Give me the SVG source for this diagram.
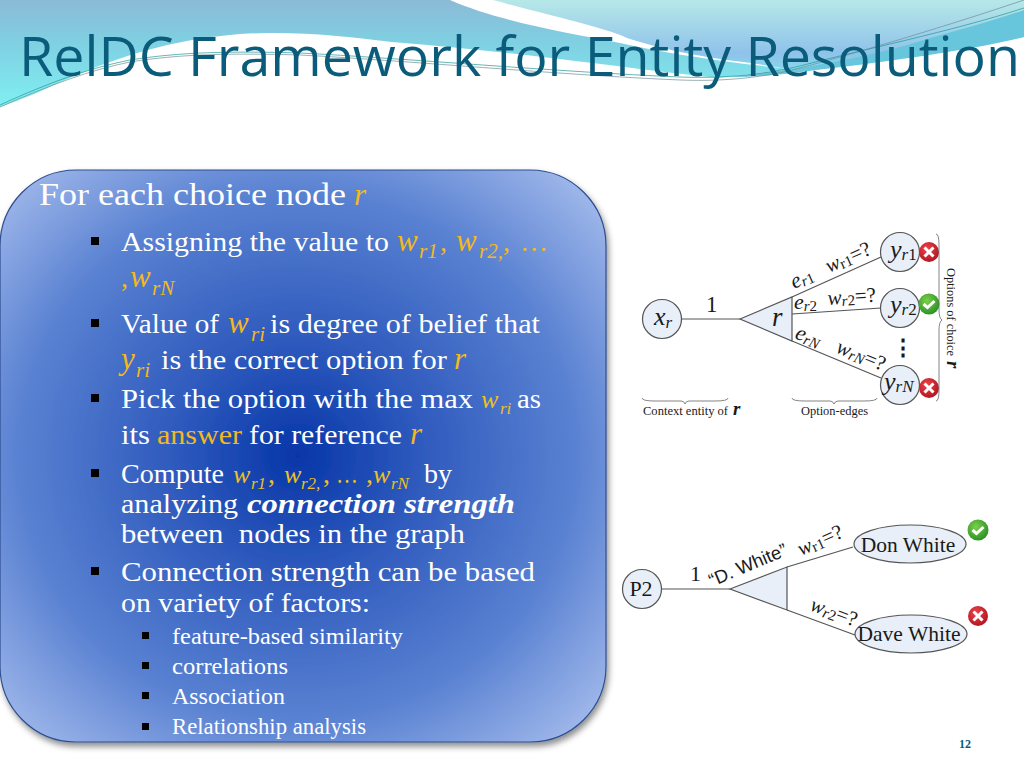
<svg xmlns="http://www.w3.org/2000/svg" width="1024" height="768" viewBox="0 0 1024 768">
<style>
.t{font-family:"Liberation Serif",serif;fill:#fff}
.a{font-size:28px}
.s{font-size:23px}
.y{fill:#f3b91c}
.y2{fill:#ecc024}
.w{font-size:31px;font-style:italic;fill:#f3b91c}
.u{font-size:21px;font-style:italic;fill:#f3b91c}
.w2{font-size:26px;font-style:italic;fill:#ecc024}
.u2{font-size:17px;font-style:italic;fill:#ecc024}
.d{font-family:"Liberation Serif",serif;fill:#1a1a1a}
.i{font-style:italic}
.n{fill:#e9eff8;stroke:#555;stroke-width:1.2}
.e{fill:none;stroke:#555;stroke-width:1.2}
.b{fill:none;stroke:#666;stroke-width:.8}
</style>
<defs>
<linearGradient id="g1" x1="0" y1="0" x2="0" y2="1"><stop offset="0" stop-color="#8bbad6"/><stop offset=".4" stop-color="#7fd0e2"/><stop offset="1" stop-color="#7ff0f2"/></linearGradient>
<linearGradient id="g2" x1="0" y1="0" x2="0" y2="1"><stop offset="0" stop-color="#b6e8e8"/><stop offset=".75" stop-color="#8fc2ea"/><stop offset="1" stop-color="#86d8ec"/></linearGradient>
<radialGradient id="p" cx=".49" cy=".5" r=".68"><stop offset="0" stop-color="#0636a8"/><stop offset=".28" stop-color="#2c58bc"/><stop offset=".68" stop-color="#5a82d2"/><stop offset="1" stop-color="#a4bbec"/></radialGradient>
<radialGradient id="rx" cx=".4" cy=".35" r=".75"><stop offset="0" stop-color="#f0444a"/><stop offset="1" stop-color="#a8101c"/></radialGradient>
<radialGradient id="rc" cx=".4" cy=".35" r=".75"><stop offset="0" stop-color="#7cd04a"/><stop offset="1" stop-color="#1f8a20"/></radialGradient>
<filter id="sh" x="-5%" y="-5%" width="110%" height="110%"><feDropShadow dx="2" dy="4" stdDeviation="3" flood-color="#000" flood-opacity=".45"/></filter>
<g id="x"><circle r="10" fill="url(#rx)"/><path d="M-4.500-4.500 4.500 4.500M4.500-4.500-4.500 4.500" stroke="#fff" stroke-width="3"/></g>
<g id="c"><circle r="10.500" fill="url(#rc)"/><path d="M-5.500 0-1.500 3.500 5.500-3" stroke="#fff" stroke-width="3" fill="none"/></g>
</defs>
<g id="bg">
<path d="M0 0H450C500 22 570 33 620 43 660 52 700 58 745 64L790 69 718 78C653 72 522 52 392 42 340 36 300 31 240 34 170 40 120 56 65 80 40 92 20 100 0 107Z" fill="url(#g1)"/>
<path d="M493 0H1024V37C960 50 880 62 800 71L751 63C700 57 665 50 627 38 600 26 550 16 493 0Z" fill="url(#g2)"/>
<path d="M1024 10C990 22 950 32 914 43 880 53 830 64 784 70L730 77C760 77 790 74 816 70 900 60 970 50 1024 37Z" fill="#68c6dc"/>
<path d="M0 107C50 85 90 70 130 62 180 54 230 53 300 55 400 60 560 75 680 80 730 82 770 76 800 68 860 52 950 25 1024 0" fill="none" stroke="#6f8f96" stroke-width=".7"/>
<path d="M0 105C50 82 90 68 130 60 180 52 230 51 300 53 400 58 560 72 680 77 730 79 770 73 800 66 860 50 950 32 1024 8" fill="none" stroke="#1f9a96" stroke-width=".7"/>
</g>
<text x="19" y="76" font-family="'Open Sans','Noto Sans',sans-serif" font-size="55" fill="#0b5c7a" textLength="1001" lengthAdjust="spacingAndGlyphs">RelDC Framework for Entity Resolution</text>
<g id="panel">
<rect x="0" y="170" width="606" height="572" rx="76" ry="76" fill="url(#p)" stroke="#2c4e90" stroke-width="1.200" filter="url(#sh)"/>
</g>
<g id="bullets" fill="#000">
<rect x="91" y="237" width="8" height="8"/><rect x="91" y="319" width="8" height="8"/><rect x="91" y="394" width="8" height="8"/><rect x="91" y="469" width="8" height="8"/><rect x="91" y="567" width="8" height="8"/>
<rect x="142" y="632" width="7" height="7"/><rect x="142" y="662" width="7" height="7"/><rect x="142" y="692" width="7" height="7"/><rect x="142" y="723" width="7" height="7"/>
</g>
<g id="body" class="t">
<text x="39" y="205" font-size="31" textLength="307" lengthAdjust="spacingAndGlyphs">For each choice node</text>
<text class="w" x="354" y="205">r</text>

<text class="a" x="121" y="251" textLength="268" lengthAdjust="spacingAndGlyphs">Assigning the value to</text>
<text class="w" x="397" y="251">w</text><text class="u" x="419" y="258">r1</text><text class="a y" x="440" y="251">,</text>
<text class="w" x="456" y="251">w</text><text class="u" x="479" y="258">r2,</text><text class="a y" x="503" y="251">,</text><text class="a y" x="520" y="251">…</text>
<text class="a y" x="121" y="287">,</text><text class="w" x="130" y="287">w</text><text class="u" x="152" y="295">rN</text>

<text class="a" x="121" y="333" textLength="98" lengthAdjust="spacingAndGlyphs">Value of</text>
<text class="w" x="228" y="333">w</text><text class="u" x="251" y="341">ri</text>
<text class="a" x="270" y="333" textLength="270" lengthAdjust="spacingAndGlyphs">is degree of belief that</text>

<text class="w" x="121" y="369">y</text><text class="u" x="136" y="377">ri</text>
<text class="a" x="161" y="369" textLength="286" lengthAdjust="spacingAndGlyphs">is the correct option for</text>
<text class="w" x="454" y="369">r</text>

<text class="a" x="121" y="408" textLength="352" lengthAdjust="spacingAndGlyphs">Pick the option with the max</text>
<text class="w2" x="481" y="408">w</text><text class="u2" x="500" y="414">ri</text>
<text class="a" x="517" y="408" textLength="24" lengthAdjust="spacingAndGlyphs">as</text>

<text class="a" x="121" y="444" textLength="29" lengthAdjust="spacingAndGlyphs">its</text>
<text class="a y" x="157" y="444" textLength="85" lengthAdjust="spacingAndGlyphs">answer</text>
<text class="a" x="249" y="444" textLength="153" lengthAdjust="spacingAndGlyphs">for reference</text>
<text class="w" x="410" y="444">r</text>

<text class="a" x="121" y="483" textLength="103" lengthAdjust="spacingAndGlyphs">Compute</text>
<text class="w2" x="233" y="483">w</text><text class="u2" x="251" y="489">r1</text><text class="a y2" x="268" y="483">,</text>
<text class="w2" x="284" y="483">w</text><text class="u2" x="301" y="489">r2,</text><text class="a y2" x="323" y="483">,</text><text class="a y2" x="336" y="483" textLength="22" lengthAdjust="spacingAndGlyphs">…</text>
<text class="a y2" x="366" y="483">,</text><text class="w2" x="373" y="483">w</text><text class="u2" x="391" y="489">rN</text>
<text class="a" x="424" y="483" textLength="28" lengthAdjust="spacingAndGlyphs">by</text>

<text class="a" x="121" y="513" textLength="117" lengthAdjust="spacingAndGlyphs">analyzing</text>
<text class="a" x="247" y="513" font-weight="bold" font-style="italic" textLength="268" lengthAdjust="spacingAndGlyphs">connection strength</text>
<text class="a" x="121" y="543" textLength="344" lengthAdjust="spacingAndGlyphs">between&#160; nodes in the graph</text>
<text class="a" x="121" y="581" textLength="414" lengthAdjust="spacingAndGlyphs">Connection strength can be based</text>
<text class="a" x="121" y="612" textLength="249" lengthAdjust="spacingAndGlyphs">on variety of factors:</text>
<text class="s" x="172" y="644" textLength="231" lengthAdjust="spacingAndGlyphs">feature-based similarity</text>
<text class="s" x="172" y="674" textLength="116" lengthAdjust="spacingAndGlyphs">correlations</text>
<text class="s" x="172" y="704" textLength="113" lengthAdjust="spacingAndGlyphs">Association</text>
<text class="s" x="172" y="734" textLength="194" lengthAdjust="spacingAndGlyphs">Relationship analysis</text>
</g>
<g id="connectors1">
<path class="e" d="M681 319H740"/><path class="e" d="M792 297 881 257"/><path class="e" d="M792 314 881 308"/><path class="e" d="M792 341 881 378"/>
</g>
<g id="choice-r"><path class="n" d="M740 319 792 297V341Z"/><text class="d i" x="772" y="326" font-size="27">r</text></g>
<g id="xr"><circle class="n" cx="662" cy="319" r="19.500"/><text class="d i" x="654" y="325" font-size="26">x<tspan font-size="17" dy="3">r</tspan></text></g>
<g id="yr1"><circle class="n" cx="900" cy="252" r="19.500"/><text class="d i" x="890" y="258" font-size="26">y<tspan font-size="17" dy="2">r</tspan><tspan font-size="17" font-style="normal">1</tspan></text><use href="#x" x="929" y="252"/></g>
<g id="yr2"><circle class="n" cx="900" cy="308" r="19.500"/><text class="d i" x="890" y="313" font-size="26">y<tspan font-size="17" dy="2">r</tspan><tspan font-size="17" font-style="normal">2</tspan></text><use href="#c" x="929" y="304"/></g>
<g id="yrN"><circle class="n" cx="900" cy="385" r="19.500"/><text class="d i" x="884" y="390" font-size="26">y<tspan font-size="17" dy="2">rN</tspan></text><use href="#x" x="929" y="388"/></g>
<g id="labels1" class="d">
<text x="706" y="312" font-size="23">1</text>
<text x="892" y="355" font-size="22" font-weight="bold">⋮</text>
<text class="i" x="794" y="289" font-size="22" transform="rotate(-24 794 289)">e<tspan font-size="15" dy="2">r</tspan><tspan font-size="15" font-style="normal">1</tspan></text>
<text class="i" x="794" y="309" font-size="22">e<tspan font-size="15" dy="2">r</tspan><tspan font-size="15" font-style="normal">2</tspan></text>
<text class="i" x="794" y="338" font-size="22" transform="rotate(22 794 338)">e<tspan font-size="15" dy="2">rN</tspan></text>
<text x="829" y="273" font-size="21" transform="rotate(-24 829 273)"><tspan class="i">w</tspan><tspan font-size="15" dy="2">r1</tspan><tspan dy="-2">=?</tspan></text>
<text x="828" y="305" font-size="21" transform="rotate(-4 828 305)"><tspan class="i">w</tspan><tspan font-size="15" class="i" dy="2">r</tspan><tspan font-size="15">2</tspan><tspan dy="-2">=?</tspan></text>
<text x="835" y="352" font-size="21" transform="rotate(22 835 352)"><tspan class="i">w</tspan><tspan font-size="15" class="i" dy="2">rN</tspan><tspan dy="-2">=?</tspan></text>
<text x="643" y="415" font-size="13" textLength="85" lengthAdjust="spacingAndGlyphs">Context entity of</text><text class="i" x="733" y="415" font-size="19" font-weight="bold">r</text>
<text x="801" y="415" font-size="13" textLength="67" lengthAdjust="spacingAndGlyphs">Option-edges</text>
<text x="947" y="268" font-size="13" transform="rotate(90 947 268)" textLength="88" lengthAdjust="spacingAndGlyphs">Options of choice</text><text class="i" x="947" y="361" font-size="19" font-weight="bold" transform="rotate(90 947 361)">r</text>
<path class="b" d="M642 398Q642 401 655 401H681Q684 401 685 404 686 401 689 401H715Q728 401 728 398"/>
<path class="b" d="M792 398Q792 401 805 401H830Q833 401 834 404 835 401 838 401H864Q877 401 877 398"/>
<path class="b" d="M936 234Q939 234 939 245V310Q939 318 942 320 939 322 939 330V390Q939 401 936 401"/>
</g>
<g id="example">
<rect x="622" y="518" width="346" height="137" fill="#fff"/>
<path class="e" d="M662 589H730"/><path class="e" d="M787 567 853 547"/><path class="e" d="M787 610 855 635"/>
<path class="n" d="M730 589 787 567V610Z"/>
</g>
<g id="P2"><circle class="n" cx="642" cy="589" r="19.500"/><text class="d" x="641" y="596" font-size="22" text-anchor="middle">P2</text></g>
<g id="don"><ellipse class="n" cx="910" cy="544" rx="56" ry="19"/><text class="d" x="908" y="552" font-size="21.500" text-anchor="middle">Don White</text><use href="#c" x="978" y="530"/></g>
<g id="dave"><ellipse class="n" cx="911" cy="634" rx="56" ry="19"/><text class="d" x="909" y="641" font-size="21.500" text-anchor="middle">Dave White</text><use href="#x" x="978" y="616"/></g>
<g id="labels2" class="d">
<text x="690" y="581" font-size="22">1</text>
<text x="712" y="587" font-size="18.500" font-family="'Liberation Sans',sans-serif" transform="rotate(-23 712 587)">“D. White”</text>
<text x="801" y="556" font-size="21" transform="rotate(-24 801 556)"><tspan class="i">w</tspan><tspan font-size="15" dy="2">r1</tspan><tspan dy="-2">=?</tspan></text>
<text x="809" y="610" font-size="21" transform="rotate(20 809 610)"><tspan class="i">w</tspan><tspan font-size="15" class="i" dy="2">r</tspan><tspan font-size="15">2</tspan><tspan dy="-2">=?</tspan></text>
</g>
<text x="959" y="748" font-family="'Liberation Serif',serif" font-size="12" font-weight="bold" fill="#0b5c7a">12</text>
</svg>
